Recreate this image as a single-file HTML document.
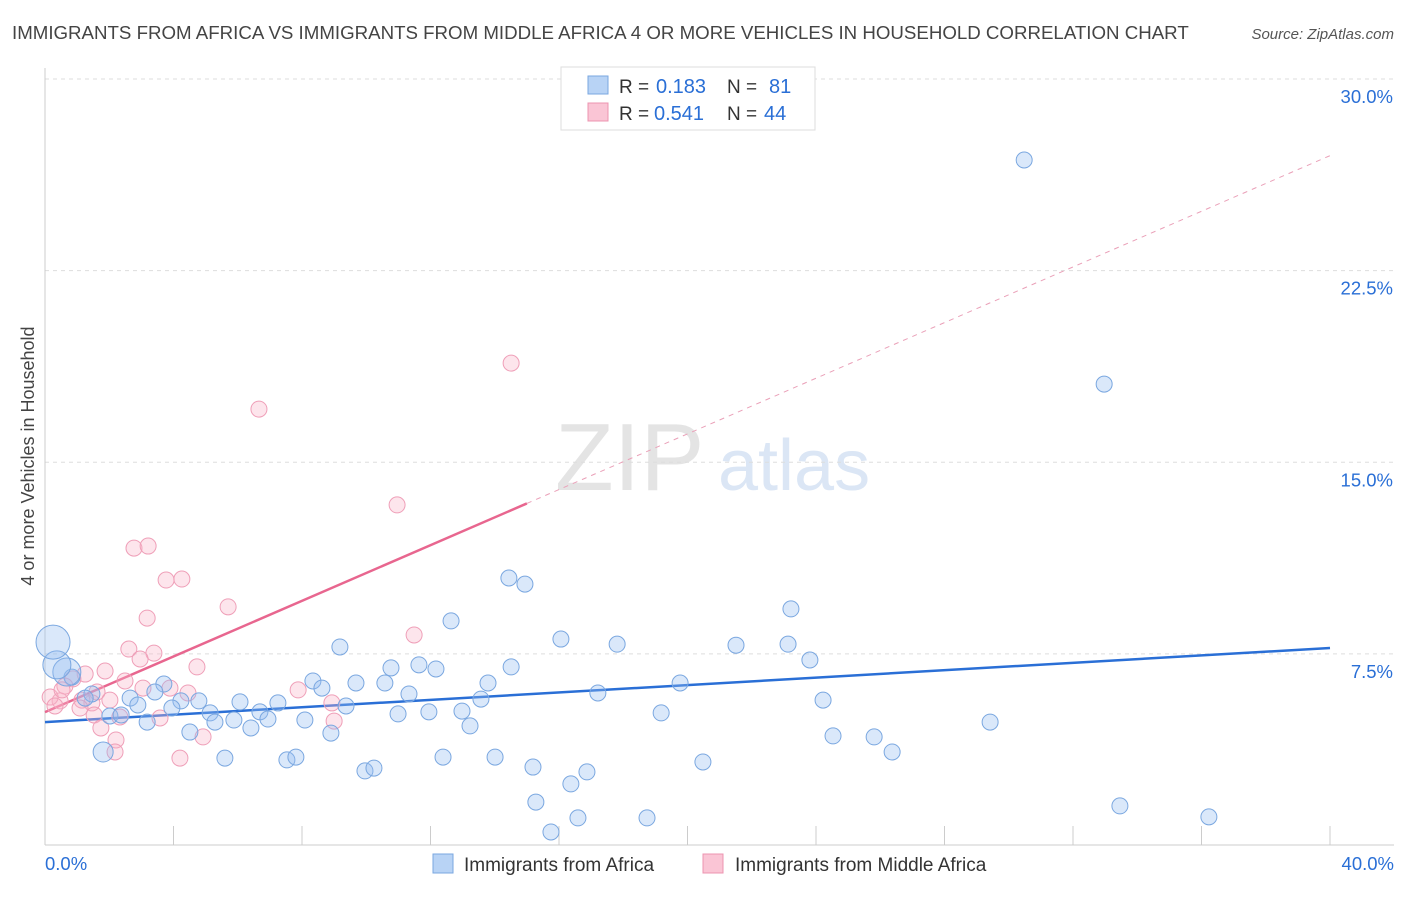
<!DOCTYPE html>
<html><head><meta charset="utf-8"><style>
body{margin:0;background:#fff;font-family:"Liberation Sans",sans-serif;}
svg text{font-family:"Liberation Sans",sans-serif;}
</style></head><body>
<svg id="chart" width="1406" height="892" xmlns="http://www.w3.org/2000/svg">
<text x="12" y="39" font-size="18.7" fill="#444">IMMIGRANTS FROM AFRICA VS IMMIGRANTS FROM MIDDLE AFRICA 4 OR MORE VEHICLES IN HOUSEHOLD CORRELATION CHART</text>
<text x="1394" y="39" font-size="15" fill="#555" text-anchor="end" font-style="italic">Source: ZipAtlas.com</text>
<text x="555" y="490" font-size="96" fill="#e4e4e4" font-family="Liberation Serif">ZIP</text>
<text x="718" y="490" font-size="72" fill="#dbe6f5">atlas</text>
<text transform="translate(34,456) rotate(-90)" font-size="18" fill="#444" text-anchor="middle">4 or more Vehicles in Household</text>
<g id="grid"></g><g id="axes"></g><g id="lines"></g><g id="pts"></g>
<g>
<rect x="561" y="67" width="254" height="63" fill="#fff" stroke="#ddd"/>
<rect x="588" y="76" width="20" height="18" fill="#b8d3f5" stroke="#7aa7e0"/>
<rect x="588" y="103" width="20" height="18" fill="#fac5d5" stroke="#ec94b0"/>
<text x="619" y="93" font-size="19" fill="#333">R =</text>
<text x="656" y="93" font-size="20" fill="#2a6fd6">0.183</text>
<text x="727" y="93" font-size="19" fill="#333">N =</text>
<text x="769" y="93" font-size="20" fill="#2a6fd6">81</text>
<text x="619" y="120" font-size="19" fill="#333">R =</text>
<text x="654" y="120" font-size="20" fill="#2a6fd6">0.541</text>
<text x="727" y="120" font-size="19" fill="#333">N =</text>
<text x="764" y="120" font-size="20" fill="#2a6fd6">44</text>
</g>
<g>
<rect x="433" y="854" width="20" height="19" fill="#b8d3f5" stroke="#7aa7e0"/>
<text x="464" y="871" font-size="19" fill="#333">Immigrants from Africa</text>
<rect x="703" y="854" width="20" height="19" fill="#fac5d5" stroke="#ec94b0"/>
<text x="735" y="871" font-size="19" fill="#333">Immigrants from Middle Africa</text>
</g>
</svg>
<script>
const yTicks=[7.5,15.0,22.5,30.0];
const xTickLabels=["0.0%","40.0%"];
const blueX=[30.48,32.97,14.44,14.94,23.22,12.64,16.06,17.81,21.51,23.13,23.81,9.18,14.51,10.77,11.64,12.17,8.34,8.62,9.68,10.58,13.79,19.77,3.70,3.42,2.65,11.33,17.21,13.57,24.22,4.79,6.07,7.25,9.37,4.23,3.95,2.89,1.46,0.84,0.68,0.37,0.25,1.25,2.02,2.37,3.18,5.14,5.29,5.88,6.69,6.94,8.09,10.99,11.95,12.98,13.23,19.18,29.42,4.51,6.41,8.90,24.53,25.81,26.37,1.81,5.60,7.53,7.81,12.39,14.01,15.19,20.48,9.96,10.24,16.87,16.37,15.28,33.46,16.59,18.74,36.23,15.75];
const blueY=[26.83,18.06,10.47,10.23,9.26,8.79,8.08,7.88,7.84,7.88,7.26,7.77,6.99,6.95,7.07,6.91,6.44,6.16,6.36,6.36,6.36,6.36,6.32,6.01,5.77,5.93,5.97,5.73,5.69,5.66,5.62,5.58,5.46,5.66,5.38,5.50,5.93,6.59,6.79,7.07,7.96,5.77,5.07,5.11,4.83,5.19,4.83,4.91,5.23,4.95,4.91,5.15,5.23,5.26,4.68,5.19,4.83,4.44,4.60,4.40,4.29,4.25,3.66,3.66,3.42,3.35,3.46,3.46,3.46,3.07,3.27,2.92,3.03,2.88,2.41,1.70,1.55,1.08,1.08,1.12,0.53];
const blueBig=[0,0,0,0,0,0,0,0,0,0,0,0,0,0,0,0,0,0,0,0,0,0,0,0,0,0,0,0,0,0,0,0,0,0,0,0,0,0,1,1,2,0,0,0,0,0,0,0,0,0,0,0,0,0,0,0,0,0,0,0,0,0,0,3,0,0,0,0,0,0,0,0,0,0,0,0,0,0,0,0,0];
const pinkX=[14.51,6.66,10.96,2.77,3.21,3.77,4.26,5.70,3.18,11.49,2.61,3.39,2.96,4.73,1.87,1.25,0.87,0.62,1.62,2.49,3.05,3.89,4.45,7.88,8.93,9.00,2.02,1.46,1.15,0.47,0.16,0.31,0.53,1.09,1.53,3.58,2.33,1.74,2.21,4.92,2.18,4.20];
const pinkY=[18.88,17.08,13.33,11.64,11.72,10.39,10.43,9.34,8.90,8.24,7.69,7.53,7.30,6.99,6.83,6.71,6.52,6.24,6.01,6.44,6.16,6.16,5.97,6.09,5.58,4.87,5.69,5.58,5.69,5.66,5.81,5.46,6.09,5.38,5.11,4.99,5.03,4.60,4.13,4.25,3.66,3.42];
const blueFit=[4.83,7.73];
const pinkFit=[5.22,27.0];
const NS="http://www.w3.org/2000/svg";
const xs=v=>45+v*32.125, ys=v=>845.5-v*25.55;
function mk(t,a,p){const e=document.createElementNS(NS,t);for(const k in a)e.setAttribute(k,a[k]);document.getElementById(p).appendChild(e);return e;}
yTicks.forEach(t=>{
 const l=mk('line',{x1:45,x2:1394,y1:ys(t),y2:ys(t),stroke:'#ddd','stroke-dasharray':'4,4'},'grid');
 
 
 const tx=mk('text',{x:1393,y:ys(t)+24,'font-size':18.5,fill:'#2a6fd6','text-anchor':'end'},'grid');
 tx.textContent=t.toFixed(1)+'%';
 
 
});
const ax=mk('line',{x1:45,x2:45,y1:68,y2:845,stroke:'#ccc'},'axes');


const bx=mk('line',{x1:45,x2:1394,y1:845,y2:845,stroke:'#ccc'},'axes');


for(let i=0;i<=10;i++){const t=mk('line',{x1:xs(i*4),x2:xs(i*4),y1:826,y2:845,stroke:'#ccc'},'axes');
 
 }
[[0,'start',45],[40,'end',1394]].forEach((d,i)=>{const t=mk('text',{x:d[2],y:870,'font-size':18.5,fill:'#2a6fd6','text-anchor':d[1]},'axes');t.textContent=xTickLabels[i];
 
 });
function pt(x,y,r,fill,stroke,name){const c=mk('circle',{cx:xs(x),cy:ys(y),r:r,fill:fill,stroke:stroke,'stroke-width':1},'pts');
 
 }
pinkX.forEach((x,i)=>pt(x,pinkY[i],8,'rgba(248,180,200,0.35)','#ef9fb8','pink-point'));
blueX.forEach((x,i)=>pt(x,blueY[i],[8,14,17,10][blueBig[i]],'rgba(150,190,240,0.35)','#7aa7e0','blue-point'));
const bl=mk('line',{x1:xs(0),y1:ys(blueFit[0]),x2:xs(40),y2:ys(blueFit[1]),stroke:'#2a6fd6','stroke-width':2.5},'lines');


const ps=(pinkFit[1]-pinkFit[0])/40;
const pl=mk('line',{x1:xs(0),y1:ys(pinkFit[0]),x2:xs(15),y2:ys(pinkFit[0]+ps*15),stroke:'#e8668f','stroke-width':2.5},'lines');


const pd=mk('line',{x1:xs(15),y1:ys(pinkFit[0]+ps*15),x2:xs(40),y2:ys(pinkFit[1]),stroke:'#eaa0b8','stroke-width':1,'stroke-dasharray':'5,5'},'lines');


</script>
</body></html>
